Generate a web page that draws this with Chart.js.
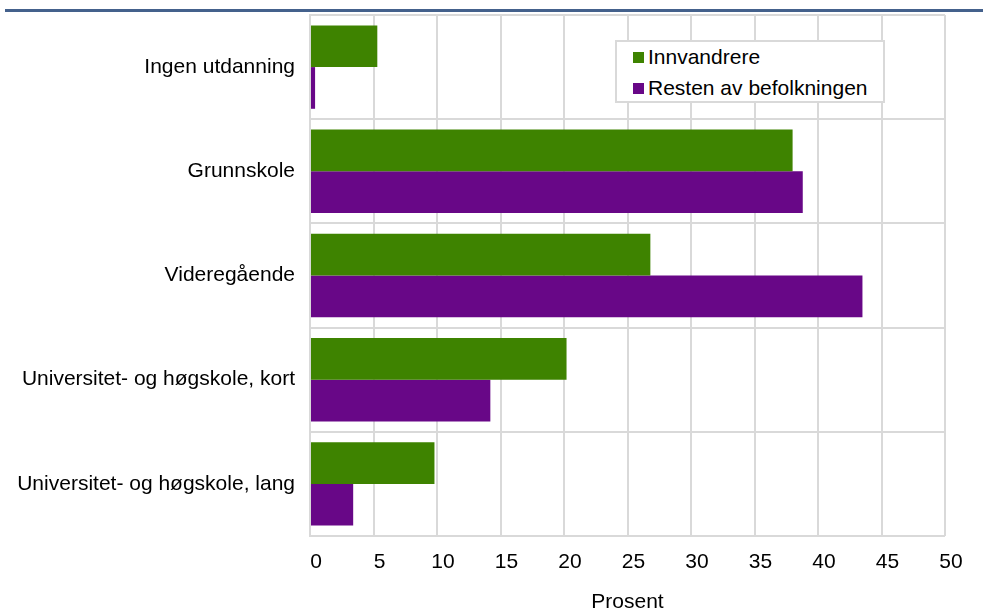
<!DOCTYPE html>
<html>
<head>
<meta charset="utf-8">
<script src="https://cdn.jsdelivr.net/npm/chart.js@4.4.1/dist/chart.umd.min.js"></script>
<style>
    body { margin: 0; background: #fff; font-family: "Liberation Sans", Arial, sans-serif; }
    #wrap { position: relative; width: 983px; height: 613px; overflow: hidden; }
    #rule { position: absolute; left: 5px; right: 0; top: 9px; height: 3px; background: #44618c; }
    #legend {
        position: absolute; left: 615px; top: 40px; width: 266px; height: 59px;
        border: 2px solid #d9d9d9; background: #fff; font-size: 21px; color: #000;
    }
    #legend div { position: absolute; left: 16px; white-space: nowrap; line-height: 24px; }
    #legend span { display: inline-block; width: 11px; height: 11px; margin-right: 4px; vertical-align: 1px; }
</style>
</head>
<body>
<div id="wrap">
    <canvas id="chart" width="983" height="613"></canvas>
    <div id="rule"></div>
    <div id="legend"></div>
</div>
<script>
// Data
const categories = [
    'Ingen utdanning',
    'Grunnskole',
    'Videregående',
    'Universitet- og høgskole, kort',
    'Universitet- og høgskole, lang'
];
const innvandrere = [5.3, 38.0, 26.8, 20.2, 9.8];
const restenAvBefolkningen = [0.4, 38.8, 43.5, 14.2, 3.4];
const seriesLabels = ['Innvandrere', 'Resten av befolkningen'];
const xMin = 0;
const xMax = 50;
const xStep = 5;
const xTitle = 'Prosent';

const colors = ['#3e8300', '#680787'];
const gridColor = '#d9d9d9';
const font = { family: '"Liberation Sans", Arial, sans-serif', size: 21 };

// HTML legend placed inside the plot area
const legendEl = document.getElementById('legend');
seriesLabels.forEach((label, i) => {
    const item = document.createElement('div');
    item.style.top = (i === 0 ? 3 : 34) + 'px';
    item.innerHTML = '<span style="background:' + colors[i] + '"></span>' + label;
    legendEl.appendChild(item);
});

Chart.defaults.font = font;
Chart.defaults.color = '#000';

new Chart(document.getElementById('chart'), {
    type: 'bar',
    data: {
        labels: categories,
        datasets: [
            { label: seriesLabels[0], data: innvandrere, backgroundColor: colors[0] },
            { label: seriesLabels[1], data: restenAvBefolkningen, backgroundColor: colors[1] }
        ]
    },
    options: {
        indexAxis: 'y',
        responsive: false,
        animation: false,
        events: [],
        categoryPercentage: 0.8,
        barPercentage: 1.0,
        layout: {
            padding: { top: 15, right: 38, bottom: 0, left: 10 }
        },
        plugins: {
            legend: { display: false },
            tooltip: { enabled: false }
        },
        scales: {
            x: {
                min: xMin,
                max: xMax,
                ticks: { stepSize: xStep, padding: 14, labelOffset: 6, font: font },
                grid: { color: gridColor, lineWidth: 2, drawTicks: false },
                border: { display: false },
                title: {
                    display: true,
                    text: xTitle,
                    font: { ...font, lineHeight: 1 },
                    padding: { top: 12, bottom: 0 }
                },
                afterFit: scale => { scale.height = 77; }
            },
            y: {
                ticks: { padding: 15, font: font },
                grid: { color: gridColor, lineWidth: 2, drawTicks: false, offset: true },
                border: { color: gridColor, width: 2 },
                afterFit: scale => {
                    scale.width = 300;
                    // labels sit mid-category, so no extra room is needed above/below
                    scale.paddingTop = 0;
                    scale.paddingBottom = 0;
                }
            }
        }
    }
});
</script>
</body>
</html>
